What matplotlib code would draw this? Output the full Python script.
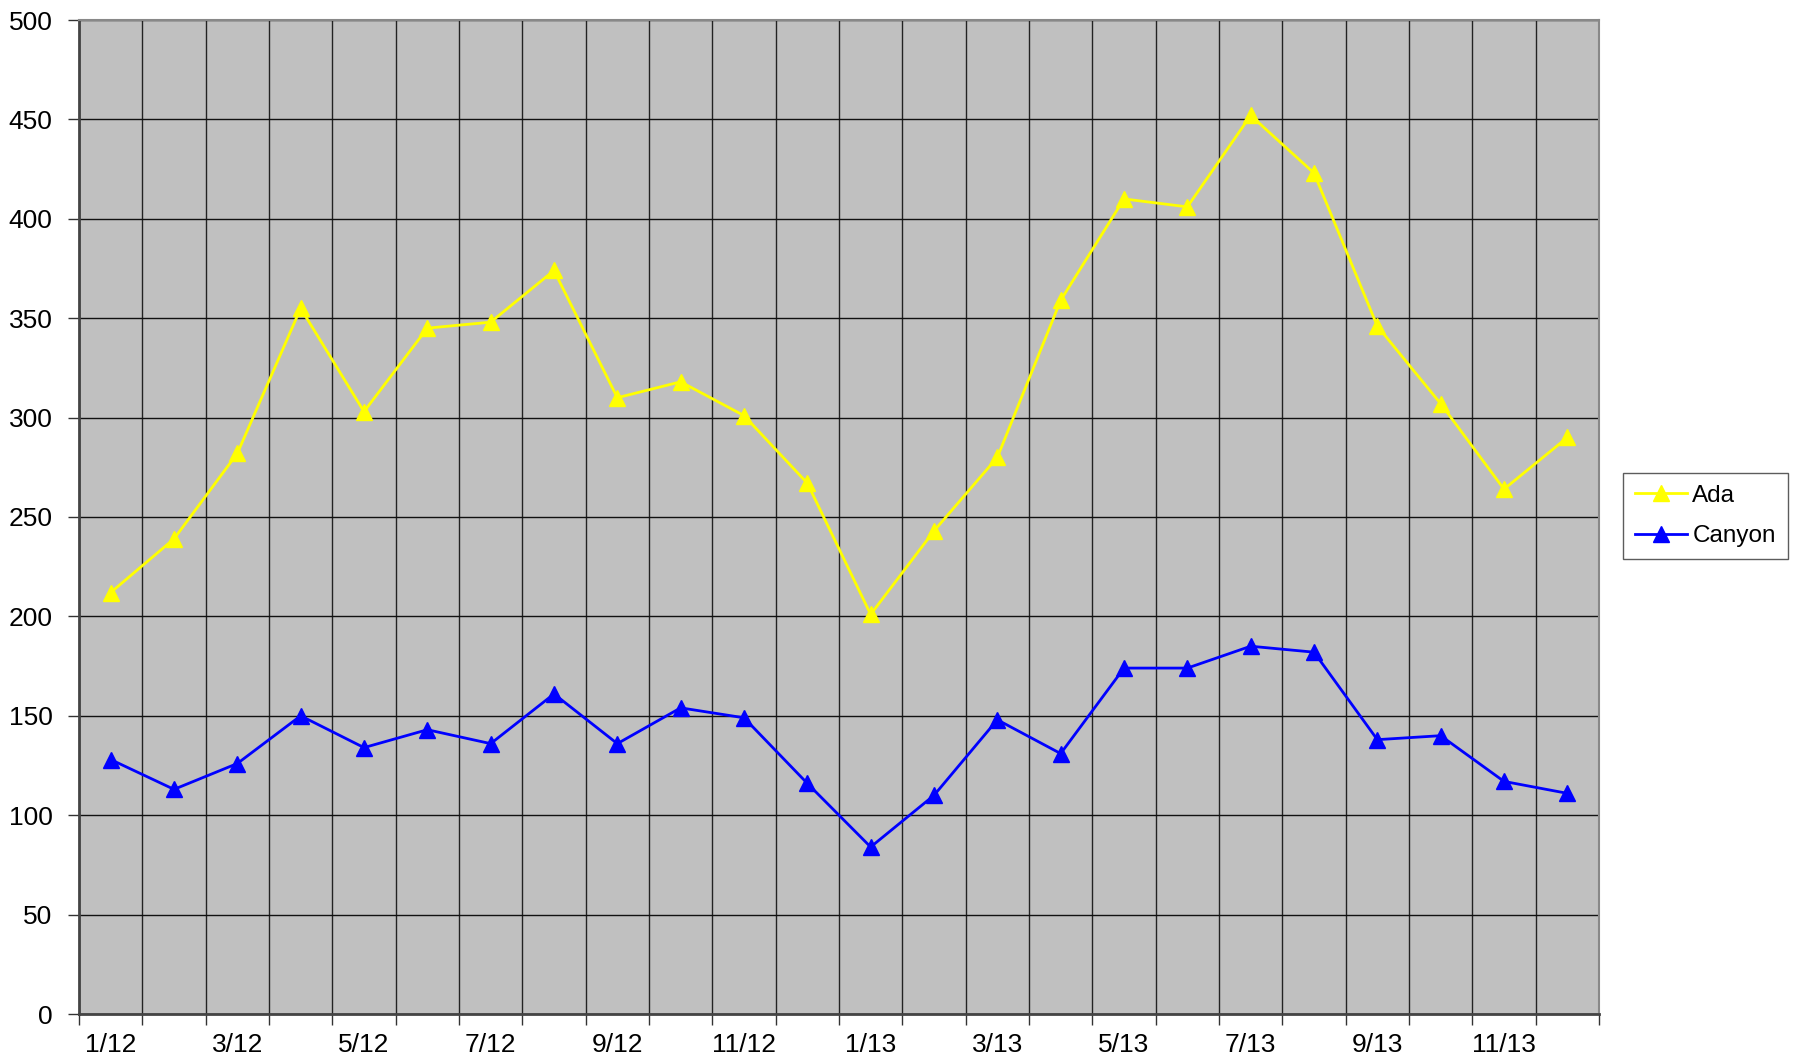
import matplotlib
matplotlib.use("Agg")
import matplotlib.pyplot as plt
import numpy as np

months = ["1/12", "2/12", "3/12", "4/12", "5/12", "6/12", "7/12", "8/12", "9/12", "10/12", "11/12", "12/12",
          "1/13", "2/13", "3/13", "4/13", "5/13", "6/13", "7/13", "8/13", "9/13", "10/13", "11/13", "12/13"]
ada = [212, 239, 282, 355, 303, 345, 348, 374, 310, 318, 301, 267,
       201, 243, 280, 359, 410, 406, 452, 423, 346, 307, 264, 290]
canyon = [128, 113, 126, 150, 134, 143, 136, 161, 136, 154, 149, 116,
          84, 110, 148, 131, 174, 174, 185, 182, 138, 140, 117, 111]

plt.rcParams['font.family'] = ['Liberation Sans', 'DejaVu Sans']

fig = plt.figure(figsize=(18.03, 10.62), dpi=100)
ax = fig.add_axes([79/1803, 1-1014/1062, (1599-79)/1803, (1014-20)/1062])
ax.set_facecolor('#c0c0c0')

x = np.arange(len(months))
ax.plot(x, ada, color='#ffff00', lw=2, marker='^', markersize=11, label='Ada', zorder=3)
ax.plot(x, canyon, color='#0000ff', lw=2, marker='^', markersize=11, label='Canyon', zorder=3)

ax.set_xlim(-0.5, len(months) - 0.5)
ax.set_ylim(0, 500)
ax.set_yticks(np.arange(0, 501, 50))
ax.set_xticks(x[::2])
ax.set_xticklabels(months[::2])
ax.set_xticks(np.arange(-0.5, len(months), 1), minor=True)

ax.tick_params(axis='x', which='major', length=0, pad=14, labelsize=19)
ax.tick_params(axis='x', which='minor', length=8, width=1, color='#333333', direction='out')
ax.tick_params(axis='y', which='major', length=8, width=1, color='#333333', direction='out', pad=11, labelsize=19)

ax.grid(True, axis='y', which='major', color='#111111', lw=1)
ax.grid(True, axis='x', which='minor', color='#222222', lw=1)
ax.grid(False, axis='x', which='major')
ax.set_axisbelow(True)

for s in ['left', 'bottom']:
    ax.spines[s].set_color('#444444')
    ax.spines[s].set_linewidth(2)
for s in ['top', 'right']:
    ax.spines[s].set_color('#888888')
    ax.spines[s].set_linewidth(1.5)

leg = ax.legend(loc='center left', bbox_to_anchor=(1623/1803, 1-516/1062), bbox_transform=fig.transFigure,
                frameon=True, fancybox=False, edgecolor='#333333', fontsize=17.5,
                handlelength=2.15, borderpad=0.5, labelspacing=0.75, handletextpad=0.2,
                borderaxespad=0)
leg.get_frame().set_linewidth(1)

fig.savefig('out.png', dpi=100)
